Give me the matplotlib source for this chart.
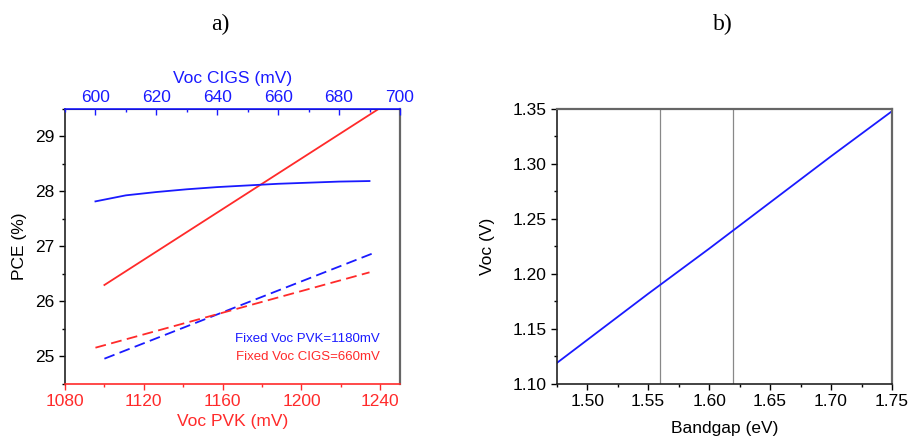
import matplotlib
matplotlib.use("Agg")
import matplotlib.pyplot as plt
from matplotlib.ticker import MultipleLocator

plt.rcParams['font.family'] = ['Liberation Sans', 'DejaVu Sans']

# ---- Panel a data ----
# Solid red: PCE vs Voc PVK (bottom axis)
pvk_x = [1100, 1120, 1140, 1160, 1180, 1200, 1220, 1240]
pvk_pce = [26.30, 26.76, 27.22, 27.68, 28.14, 28.60, 29.06, 29.52]
# Solid blue: PCE vs Voc CIGS (top axis)
cigs_x = [600, 610, 620, 630, 640, 650, 660, 670, 680, 690]
cigs_pce = [27.82, 27.93, 27.99, 28.04, 28.08, 28.11, 28.14, 28.16, 28.18, 28.19]
# Dashed blue (bottom axis)
dblue_x = [1100, 1238]
dblue_pce = [24.96, 26.90]
# Dashed red (top axis)
dred_x = [600, 690]
dred_pce = [25.16, 26.53]

# ---- Panel b data ----
bandgap = [1.475, 1.50, 1.55, 1.60, 1.65, 1.70, 1.75]
voc = [1.119, 1.140, 1.182, 1.223, 1.265, 1.307, 1.348]
vlines_b = [1.56, 1.62]

BLUE = '#1a1aff'
RED = '#ff2a2a'
FS = 12.5

fig = plt.figure(figsize=(9.09, 4.37), dpi=100)

# ---------------- Panel a ----------------
ax = fig.add_axes([0.0715, 0.1213, 0.3685, 0.6293])
ax.plot(pvk_x, pvk_pce, color=RED, lw=1.3)
ax.plot(dblue_x, dblue_pce, color=BLUE, lw=1.3, ls=(0, (6, 3)))
ax.set_xlim(1080, 1250)
ax.set_ylim(24.5, 29.5)
ax.xaxis.set_major_locator(MultipleLocator(40))
ax.xaxis.set_minor_locator(MultipleLocator(20))
ax.yaxis.set_major_locator(MultipleLocator(1))
ax.yaxis.set_minor_locator(MultipleLocator(0.5))
ax.tick_params(axis='x', which='both', direction='out', colors=RED, labelsize=FS, width=1.0)
ax.tick_params(axis='x', which='major', length=4)
ax.tick_params(axis='x', which='minor', length=2.5)
ax.tick_params(axis='y', which='both', direction='out', colors='black', labelsize=FS, width=1.0)
ax.tick_params(axis='y', which='major', length=4)
ax.tick_params(axis='y', which='minor', length=2.5)
ax.spines['bottom'].set_color(RED)
ax.spines['left'].set_color('#222222')
ax.spines['right'].set_color('#666666')
ax.spines['right'].set_linewidth(1.6)
for s in ['bottom', 'left']:
    ax.spines[s].set_linewidth(1.2)
ax.set_xlabel('Voc PVK (mV)', color=RED, fontsize=FS, labelpad=3)
ax.set_ylabel('PCE (%)', fontsize=FS, labelpad=6)
ax.text(0.94, 0.164, 'Fixed Voc PVK=1180mV', color=BLUE, fontsize=9.5,
        ha='right', va='center', transform=ax.transAxes)
ax.text(0.94, 0.098, 'Fixed Voc CIGS=660mV', color=RED, fontsize=9.5,
        ha='right', va='center', transform=ax.transAxes)

ax2 = ax.twiny()
ax2.plot(cigs_x, cigs_pce, color=BLUE, lw=1.3)
ax2.plot(dred_x, dred_pce, color=RED, lw=1.3, ls=(0, (6, 3)))
ax2.set_xlim(590, 700)
ax2.xaxis.set_major_locator(MultipleLocator(20))
ax2.xaxis.set_minor_locator(MultipleLocator(10))
ax2.tick_params(axis='x', which='both', direction='in', colors=BLUE, labelsize=FS, width=1.0, pad=3)
ax2.tick_params(axis='x', which='major', length=4)
ax2.tick_params(axis='x', which='minor', length=2.5)
ax2.spines['top'].set_color(BLUE)
ax2.spines['top'].set_linewidth(1.2)
ax2.spines['bottom'].set_visible(False)
ax2.spines['left'].set_visible(False)
ax2.spines['right'].set_visible(False)
ax2.set_xlabel('Voc CIGS (mV)', color=BLUE, fontsize=FS, labelpad=5)

fig.text(0.242, 0.945, 'a)', fontsize=17, family='Liberation Serif', ha='center', va='center')

# ---------------- Panel b ----------------
bx = fig.add_axes([0.6124, 0.1213, 0.3689, 0.6293])
for v in vlines_b:
    bx.axvline(v, color='#888888', lw=0.9)
bx.plot(bandgap, voc, color=BLUE, lw=1.3)
bx.set_xlim(1.475, 1.75)
bx.set_ylim(1.10, 1.35)
bx.xaxis.set_major_locator(MultipleLocator(0.05))
bx.xaxis.set_minor_locator(MultipleLocator(0.025))
bx.yaxis.set_major_locator(MultipleLocator(0.05))
bx.yaxis.set_minor_locator(MultipleLocator(0.025))
bx.xaxis.set_major_formatter(matplotlib.ticker.FormatStrFormatter('%.2f'))
bx.yaxis.set_major_formatter(matplotlib.ticker.FormatStrFormatter('%.2f'))
bx.tick_params(which='both', direction='out', labelsize=FS, width=1.0)
bx.tick_params(which='major', length=4)
bx.tick_params(which='minor', length=2.5)
for s in ['left', 'bottom']:
    bx.spines[s].set_color('#222222')
    bx.spines[s].set_linewidth(1.2)
for s in ['top', 'right']:
    bx.spines[s].set_color('#666666')
    bx.spines[s].set_linewidth(1.6)
bx.set_xlabel('Bandgap (eV)', fontsize=FS, labelpad=8)
bx.set_ylabel('Voc (V)', fontsize=FS, labelpad=12)

fig.text(0.795, 0.945, 'b)', fontsize=17, family='Liberation Serif', ha='center', va='center')

fig.savefig('out.png', dpi=100)
